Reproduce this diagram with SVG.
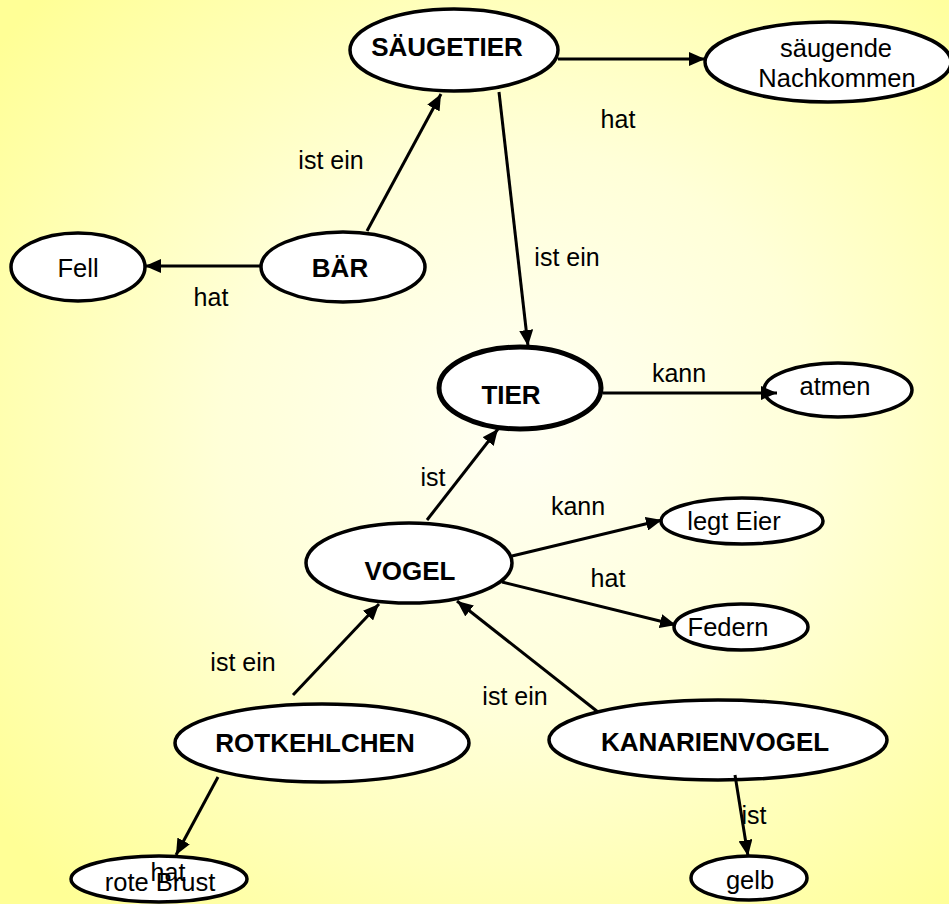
<svg xmlns="http://www.w3.org/2000/svg" width="949" height="904" viewBox="0 0 949 904">
<defs>
<radialGradient id="bg" cx="55%" cy="48%" r="70%">
<stop offset="0" stop-color="#FFFFF4"/>
<stop offset="0.45" stop-color="#FFFFD8"/>
<stop offset="1" stop-color="#FFFF96"/>
</radialGradient>
<marker id="ah" markerUnits="userSpaceOnUse" markerWidth="18" markerHeight="14" refX="16" refY="7" orient="auto">
<path d="M0,0 L16,7 L0,14 z" fill="#000"/>
</marker>
</defs>
<style>
.n ellipse{fill:#fff;stroke:#000;stroke-width:3.5}
.n text{font-family:"Liberation Sans",Arial,sans-serif;font-size:25.5px;text-anchor:middle;fill:#000}
.n text.b{font-weight:bold;font-size:26px}
.c line{stroke:#000;stroke-width:3;marker-end:url(#ah)}
.c text{font-family:"Liberation Sans",Arial,sans-serif;font-size:25px;text-anchor:middle;fill:#000}
</style>
<rect width="949" height="904" fill="url(#bg)"/>
<g id="nodes">
<g id="saeugetier" class="n"><ellipse cx="454" cy="50" rx="104" ry="41"/><text class="b" x="447" y="56">SÄUGETIER</text></g>
<g id="nachkommen" class="n"><ellipse cx="828" cy="62" rx="123" ry="40"/><text x="836" y="57">säugende</text><text x="837" y="87">Nachkommen</text></g>
<g id="baer" class="n"><ellipse cx="343" cy="267" rx="82" ry="35"/><text class="b" x="340" y="277">BÄR</text></g>
<g id="fell" class="n"><ellipse cx="78" cy="267" rx="67" ry="34"/><text x="78" y="277">Fell</text></g>
<g id="tier" class="n"><ellipse cx="520" cy="388" rx="81" ry="41" style="stroke-width:5"/><text class="b" x="511" y="404">TIER</text></g>
<g id="atmen" class="n"><ellipse cx="838" cy="390" rx="74" ry="27"/><text x="835" y="395">atmen</text></g>
<g id="vogel" class="n"><ellipse cx="409" cy="563" rx="103" ry="40"/><text class="b" x="410" y="580">VOGEL</text></g>
<g id="legteier" class="n"><ellipse cx="742" cy="521" rx="81" ry="23"/><text x="734" y="530">legt Eier</text></g>
<g id="federn" class="n"><ellipse cx="741" cy="627" rx="67" ry="23"/><text x="728" y="636">Federn</text></g>
<g id="rotkehlchen" class="n"><ellipse cx="322" cy="743" rx="147" ry="39"/><text class="b" x="315" y="752">ROTKEHLCHEN</text></g>
<g id="kanarienvogel" class="n"><ellipse cx="718" cy="740" rx="169" ry="40"/><text class="b" x="715" y="751">KANARIENVOGEL</text></g>
<g id="rotebrust" class="n"><ellipse cx="159" cy="879" rx="88" ry="23"/><text x="160" y="891">rote Brust</text></g>
<g id="gelb" class="n"><ellipse cx="749" cy="878" rx="58" ry="22"/><text x="750" y="889">gelb</text></g>
</g>
<g id="connectors" class="c">
<line x1="558" y1="59" x2="705" y2="59"/>
<line x1="367" y1="231" x2="441" y2="94"/>
<line x1="262" y1="266" x2="145" y2="266"/>
<line x1="499" y1="92" x2="528" y2="346"/>
<line x1="603" y1="393" x2="777" y2="393"/>
<line x1="427" y1="520" x2="498" y2="429"/>
<line x1="512" y1="556" x2="662" y2="520"/>
<line x1="502" y1="582" x2="676" y2="625"/>
<line x1="293" y1="695" x2="379" y2="604"/>
<line x1="598" y1="712" x2="457" y2="601"/>
<line x1="218" y1="777" x2="176" y2="855"/>
<line x1="735" y1="775" x2="748" y2="856"/>
<text x="618" y="128">hat</text>
<text x="331" y="169">ist ein</text>
<text x="211" y="306">hat</text>
<text x="567" y="266">ist ein</text>
<text x="679" y="382">kann</text>
<text x="433" y="486">ist</text>
<text x="578" y="515">kann</text>
<text x="608" y="587">hat</text>
<text x="243" y="671">ist ein</text>
<text x="515" y="705">ist ein</text>
<text x="168" y="881">hat</text>
<text x="754" y="824">ist</text>
</g>
</svg>
